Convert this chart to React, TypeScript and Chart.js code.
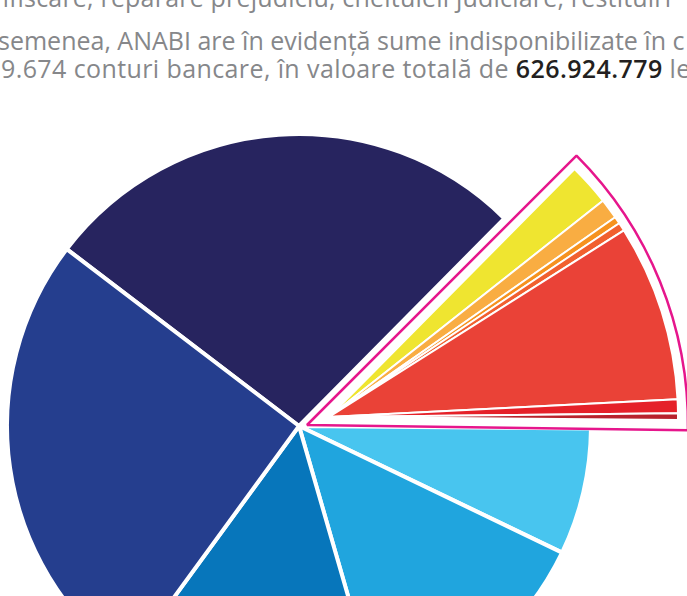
import React, { useEffect, useRef } from "react";
import { Chart, registerables } from "chart.js";

Chart.register(...registerables);

// ---- data (percent shares, clockwise starting at the dark navy slice) ----
const categories = [
  "Segment 1",
  "Segment 2",
  "Segment 3",
  "Segment 4",
  "Segment 5",
  "Segment 6",
  "Segment 7",
  "Segment 8",
  "Segment 9",
  "Segment 10",
  "Segment 11",
  "Segment 12",
];
const shares = [27.06, 1.94, 0.94, 0.33, 0.39, 8.17, 0.64, 0.31, 7.0, 13.39, 14.5, 25.33];
const sliceColors = [
  "#27245f",
  "#efe530",
  "#f9ad42",
  "#f6921e",
  "#f1602f",
  "#ea4237",
  "#e52129",
  "#b8222c",
  "#48c5ef",
  "#20a5de",
  "#0776bb",
  "#253e8e",
];
const highlighted = [false, true, true, true, true, true, true, true, false, false, false, false];

const textLine1 = "confiscare, reparare prejudiciu, cheltuieli judiciare, restituiri";
const textLine2 = "semenea, ANABI are în evidență sume indisponibilizate în c";
const textLine3a = "9.674 conturi bancare, în valoare totală de ";
const textLine3b = "626.924.779";
const textLine3c = " le";

// ---- styles ----
const START_ROTATION = -52.7;
const TRANSPARENT = "rgba(0,0,0,0)";
const MAGENTA = "#e6168c";

type LayerProps = {
  cx: number;
  cy: number;
  radius: number;
  labels: string[];
  values: number[];
  colors: string[];
  borderColors: string[];
  borderWidths: number[];
  rotation: number;
};

function PieLayer(props: LayerProps) {
  const ref = useRef<HTMLCanvasElement | null>(null);
  const size = Math.ceil(props.radius * 2 + 20);
  useEffect(() => {
    if (!ref.current) return;
    const chart = new Chart(ref.current, {
      type: "pie",
      data: {
        labels: props.labels,
        datasets: [
          {
            data: props.values,
            backgroundColor: props.colors,
            borderColor: props.borderColors,
            borderWidth: props.borderWidths,
          },
        ],
      },
      options: {
        responsive: false,
        animation: false,
        devicePixelRatio: 1,
        rotation: props.rotation,
        radius: props.radius,
        layout: { padding: 0 },
        events: [],
        plugins: {
          legend: { display: false },
          tooltip: { enabled: false },
        },
      } as any,
    });
    return () => chart.destroy();
  }, []);
  return (
    <canvas
      ref={ref}
      width={size}
      height={size}
      style={{
        position: "absolute",
        left: props.cx - size / 2,
        top: props.cy - size / 2,
        width: size,
        height: size,
      }}
    />
  );
}

export default function App() {
  const mainColors = sliceColors.map((c, i) => (highlighted[i] ? TRANSPARENT : c));
  const mainBorders = highlighted.map((h) => (h ? 0 : 4));
  const explColors = sliceColors.map((c, i) => (highlighted[i] ? c : TRANSPARENT));
  const explBorders = highlighted.map((h) => (h ? 2 : 0));

  const groupSum = shares.filter((_, i) => highlighted[i]).reduce((a, b) => a + b, 0);
  const restSum = shares.filter((_, i) => i > 0 && !highlighted[i]).reduce((a, b) => a + b, 0);
  const frameValues = [shares[0], groupSum, restSum];

  const gray = "#86878a";
  const textBase: React.CSSProperties = {
    position: "absolute",
    whiteSpace: "nowrap",
    fontFamily: "'Open Sans', sans-serif",
    fontSize: 25,
    lineHeight: 1,
    color: gray,
  };

  return (
    <div
      style={{
        position: "fixed",
        left: 0,
        top: 0,
        width: 687,
        height: 596,
        overflow: "hidden",
        background: "#ffffff",
      }}
    >
      <div style={{ ...textBase, left: -34, top: -15, letterSpacing: 0.2 }}>{textLine1}</div>
      <div style={{ ...textBase, left: -2, top: 28 }}>{textLine2}</div>
      <div style={{ ...textBase, left: 1, top: 56, letterSpacing: 0.4 }}>
        {textLine3a}
        <span style={{ color: "#231f20", fontWeight: 600 }}>{textLine3b}</span>
        {textLine3c}
      </div>

      <PieLayer
        cx={299}
        cy={426}
        radius={292}
        labels={categories}
        values={shares}
        colors={mainColors}
        borderColors={sliceColors.map(() => "#ffffff")}
        borderWidths={mainBorders}
        rotation={START_ROTATION}
      />
      <PieLayer
        cx={307}
        cy={425}
        radius={381}
        labels={["before", "highlight", "after"]}
        values={frameValues}
        colors={[TRANSPARENT, TRANSPARENT, TRANSPARENT]}
        borderColors={[TRANSPARENT, MAGENTA, TRANSPARENT]}
        borderWidths={[0, 2.5, 0]}
        rotation={START_ROTATION + 0.3}
      />
      <PieLayer
        cx={329}
        cy={417}
        radius={349}
        labels={categories}
        values={shares}
        colors={explColors}
        borderColors={sliceColors.map(() => "#ffffff")}
        borderWidths={explBorders}
        rotation={START_ROTATION}
      />
    </div>
  );
}
